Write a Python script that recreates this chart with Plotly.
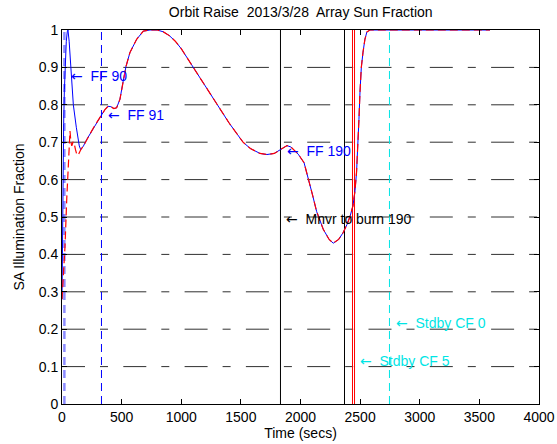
import plotly.graph_objects as go

# ---------------- data ----------------
# early part (differs between the two series)
t_blue_early = [0, 4, 8, 14, 20, 28, 36, 44, 50, 60, 75, 95, 120, 145, 157, 180]
y_blue_early = [0.28, 0.45, 0.62, 0.75, 0.84, 0.92, 0.97, 0.995, 1.0, 0.97, 0.89, 0.80, 0.74, 0.69, 0.68, 0.69]

t_red_early = [0, 10, 25, 40, 48, 59, 67, 75, 82, 92, 100, 113, 126, 140, 157, 180]
y_red_early = [0.28, 0.33, 0.42, 0.55, 0.61, 0.70, 0.73, 0.70, 0.69, 0.70, 0.70, 0.68, 0.665, 0.668, 0.68, 0.69]

# common part (both series overlap)
t_common = [207, 240, 270, 302, 330, 360, 386, 410, 435, 458, 486, 514, 537, 570, 626, 682, 738,
            800, 850, 900, 950, 1000, 1050, 1100, 1200, 1300, 1400, 1518, 1580, 1660, 1718, 1780,
            1828, 1860, 1887, 1920, 1950, 1981, 2030, 2065, 2100, 2135, 2191, 2240, 2275, 2320,
            2357, 2390, 2414, 2440, 2457, 2470, 2482, 2490, 2499, 2510, 2524, 2540, 2557, 2583,
            3000, 3589]
y_common = [0.707, 0.725, 0.742, 0.758, 0.772, 0.787, 0.796, 0.795, 0.790, 0.792, 0.815, 0.865,
            0.903, 0.94, 0.975, 0.997, 1.0, 1.0, 0.995, 0.985, 0.97, 0.95, 0.925, 0.9, 0.85, 0.8,
            0.752, 0.7, 0.683, 0.67, 0.667, 0.67, 0.68, 0.687, 0.691, 0.687, 0.678, 0.668, 0.645,
            0.605, 0.56, 0.515, 0.467, 0.44, 0.43, 0.44, 0.458, 0.48, 0.50, 0.53, 0.57, 0.62,
            0.69, 0.76, 0.835, 0.9, 0.94, 0.975, 0.995, 1.0, 1.0, 1.0]

# horizontal reference lines
grid_levels = [0.1, 0.2, 0.3, 0.4, 0.5, 0.6, 0.7, 0.8, 0.9]

# vertical event lines
vline_times = [20, 331, 1832, 2369, 2436, 2453, 2746]
vline_colors = ["rgba(0,0,255,0.45)", "#0000ff", "#000000", "#000000", "#ff0000", "#ff0000", "#00e5e5"]
vline_dash = ["8px,5px", "8px,5px", "solid", "solid", "solid", "solid", "8px,5px"]
vline_width = [2.5, 1, 1, 1, 1, 1, 1]

# annotations
ann_label = ["FF 90", "FF 91", "FF 190", "Mnvr to burn 190", "Stdby CF 0", "Stdby CF 5"]
ann_t = [62, 365, 1868, 1860, 2788, 2483]
ann_y = [0.878, 0.774, 0.676, 0.496, 0.217, 0.116]
ann_color = ["#0000ff", "#0000ff", "#0000ff", "#000000", "#00e5e5", "#00e5e5"]

x_ticks = [0, 500, 1000, 1500, 2000, 2500, 3000, 3500, 4000]
y_ticks = [0, 0.1, 0.2, 0.3, 0.4, 0.5, 0.6, 0.7, 0.8, 0.9, 1]
y_tick_text = ["0", "0.1", "0.2", "0.3", "0.4", "0.5", "0.6", "0.7", "0.8", "0.9", "1"]

FONT = "Liberation Sans, Arial, Helvetica, sans-serif"
ARROW = '<span style="font-family:DejaVu Sans">\u2190</span>\u00a0 '

fig = go.Figure()

for g in grid_levels:
    fig.add_trace(go.Scatter(x=[0, 4000], y=[g, g], mode="lines",
                             line=dict(color="#303030", width=1, dash="23px,15px,8px,15.3px"),
                             hoverinfo="skip", showlegend=False))

for t, c, d, w in zip(vline_times, vline_colors, vline_dash, vline_width):
    fig.add_trace(go.Scatter(x=[t, t], y=[0, 1], mode="lines",
                             line=dict(color=c, width=w, dash=d),
                             hoverinfo="skip", showlegend=False))

fig.add_trace(go.Scatter(x=t_blue_early + t_common, y=y_blue_early + y_common, mode="lines",
                         line=dict(color="#0000ff", width=1), showlegend=False))
fig.add_trace(go.Scatter(x=t_red_early + t_common, y=y_red_early + y_common, mode="lines",
                         line=dict(color="#ff0000", width=1.2, dash="8px,4px"), showlegend=False))

for txt, t, y, c in zip(ann_label, ann_t, ann_y, ann_color):
    fig.add_annotation(x=t, y=y, text=ARROW + txt, showarrow=False, xanchor="left",
                       yanchor="middle", font=dict(family=FONT, size=14, color=c))

fig.update_layout(
    width=557, height=444,
    margin=dict(l=62, r=18, t=30, b=40),
    paper_bgcolor="white", plot_bgcolor="white",
    font=dict(family=FONT, size=14, color="black"),
    title=dict(text="Orbit Raise  2013/3/28  Array Sun Fraction", x=0.54, xanchor="center",
               y=1 - 12 / 444, yanchor="middle", yref="container",
               font=dict(family=FONT, size=14, color="black")),
    xaxis=dict(range=[0, 4000], tickvals=x_ticks, ticks="inside", ticklen=5, tickcolor="black",
               showgrid=False, zeroline=False, showline=True, linecolor="black", linewidth=1,
               mirror="ticks", automargin=False,
               title=dict(text="Time (secs)", standoff=2, font=dict(family=FONT, size=14))),
    yaxis=dict(range=[0, 1], tickvals=y_ticks, ticktext=y_tick_text, ticks="inside", ticklen=5,
               tickcolor="black", showgrid=False, zeroline=False, showline=True,
               linecolor="black", linewidth=1, mirror="ticks", automargin=False,
               title=dict(text="SA Illumination Fraction", standoff=10,
                          font=dict(family=FONT, size=14))),
)

fig.write_html("out.html")
